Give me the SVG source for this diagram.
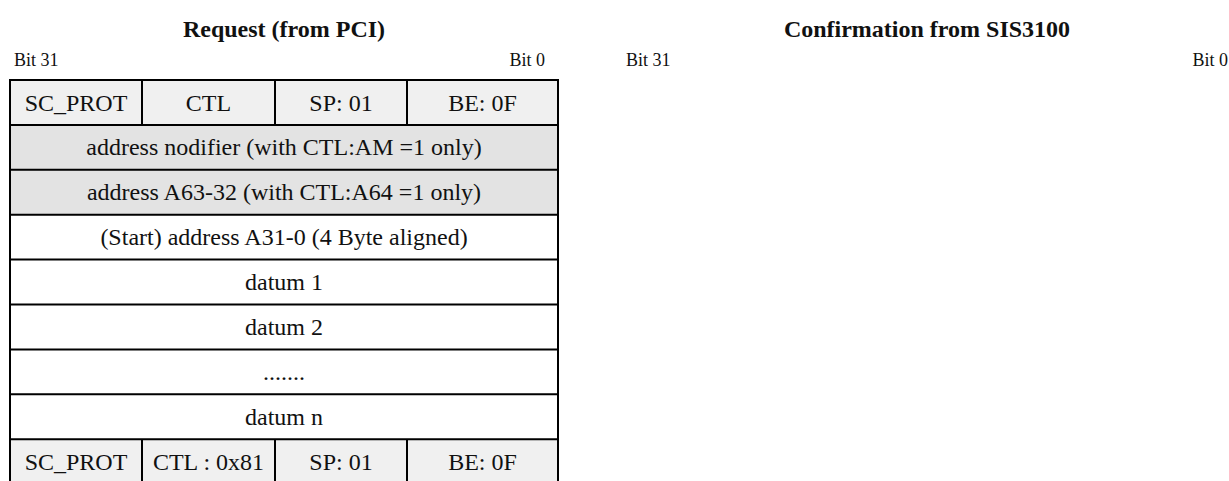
<svg xmlns="http://www.w3.org/2000/svg" width="1229" height="481" viewBox="0 0 1229 481">
  <style>
    .title { font-family: "Liberation Serif", "Times New Roman", serif; font-size: 24px; font-weight: bold; fill: #111; text-anchor: middle; }
    .bit { font-family: "Liberation Serif", "Times New Roman", serif; font-size: 18px; fill: #111; }
    .cell text { font-family: "Liberation Serif", "Times New Roman", serif; font-size: 24px; fill: #111; text-anchor: middle; }
    .hdr { fill: #f0f0f0; }
    .opt { fill: #e3e3e3; }
    .plain { fill: #ffffff; }
    .grid { stroke: #000; stroke-width: 2; fill: none; }
  </style>

  <rect width="1229" height="481" fill="#ffffff"/>

  <!-- left frame: request from PCI -->
  <text class="title" x="284" y="37">Request (from PCI)</text>
  <text class="bit" x="14" y="66">Bit 31</text>
  <text class="bit" x="545" y="66" text-anchor="end">Bit 0</text>

  <!-- right frame: confirmation from SIS3100 -->
  <text class="title" x="927" y="37">Confirmation from SIS3100</text>
  <text class="bit" x="626" y="66">Bit 31</text>
  <text class="bit" x="1228" y="66" text-anchor="end">Bit 0</text>

  <!-- header word -->
  <g id="row-header" class="cell">
    <rect class="hdr" x="10" y="80" width="548" height="44.9"/>
    <text x="76" y="110.5">SC_PROT</text>
    <text x="208.5" y="110.5">CTL</text>
    <text x="341" y="110.5">SP: 01</text>
    <text x="482.5" y="110.5">BE: 0F</text>
  </g>

  <g id="row-am" class="cell">
    <rect class="opt" x="10" y="124.9" width="548" height="44.9"/>
    <text x="284" y="155.4">address nodifier (with CTL:AM =1 only)</text>
  </g>

  <g id="row-a64" class="cell">
    <rect class="opt" x="10" y="169.8" width="548" height="44.9"/>
    <text x="284" y="200.3">address A63-32 (with CTL:A64 =1 only)</text>
  </g>

  <g id="row-start" class="cell">
    <rect class="plain" x="10" y="214.7" width="548" height="44.9"/>
    <text x="284" y="245.2">(Start) address A31-0 (4 Byte aligned)</text>
  </g>

  <g id="row-datum1" class="cell">
    <rect class="plain" x="10" y="259.6" width="548" height="44.9"/>
    <text x="284" y="290.1">datum 1</text>
  </g>

  <g id="row-datum2" class="cell">
    <rect class="plain" x="10" y="304.5" width="548" height="44.9"/>
    <text x="284" y="335">datum 2</text>
  </g>

  <g id="row-dots" class="cell">
    <rect class="plain" x="10" y="349.4" width="548" height="44.9"/>
    <text x="284" y="379.9">.......</text>
  </g>

  <g id="row-datumn" class="cell">
    <rect class="plain" x="10" y="394.3" width="548" height="44.9"/>
    <text x="284" y="424.8">datum n</text>
  </g>

  <!-- trailer word -->
  <g id="row-trailer" class="cell">
    <rect class="hdr" x="10" y="439.2" width="548" height="44.9"/>
    <text x="76" y="469.7">SC_PROT</text>
    <text x="208.5" y="469.7">CTL : 0x81</text>
    <text x="341" y="469.7">SP: 01</text>
    <text x="482.5" y="469.7">BE: 0F</text>
  </g>

  <!-- table rules -->
  <g id="grid" class="grid">
    <rect x="10" y="80" width="548" height="404.1"/>
    <path d="M10 124.9H558 M10 169.8H558 M10 214.7H558 M10 259.6H558 M10 304.5H558 M10 349.4H558 M10 394.3H558 M10 439.2H558"/>
    <path d="M142 80V124.9 M275 80V124.9 M407 80V124.9"/>
    <path d="M142 439.2V484.1 M275 439.2V484.1 M407 439.2V484.1"/>
  </g>
</svg>
